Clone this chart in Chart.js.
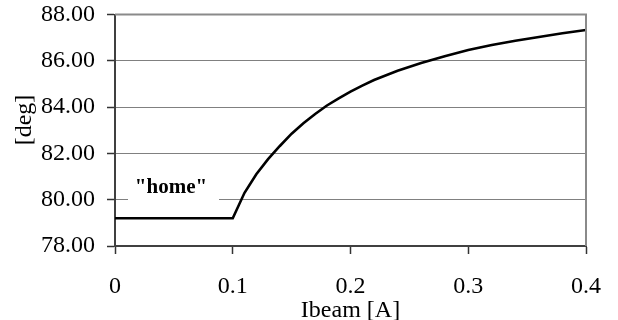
<!DOCTYPE html>
<html>
<head>
<meta charset="utf-8">
<script src="https://cdn.jsdelivr.net/npm/chart.js@4/dist/chart.umd.min.js"></script>
<style>
  html, body { margin: 0; padding: 0; background: #fff; }
  #wrap { width: 618px; height: 320px; position: relative; }
</style>
</head>
<body>
<div id="wrap"><canvas id="c"></canvas></div>
<script>
const ibeam = [0, 0.10, 0.11, 0.12, 0.13, 0.14, 0.15, 0.16, 0.17, 0.18, 0.19, 0.20, 0.21, 0.22, 0.24, 0.26, 0.28, 0.30, 0.32, 0.34, 0.36, 0.38, 0.40];
const angle = [79.2, 79.2, 80.3, 81.1, 81.75, 82.32, 82.85, 83.3, 83.7, 84.07, 84.38, 84.67, 84.93, 85.17, 85.57, 85.9, 86.2, 86.47, 86.68, 86.87, 87.03, 87.19, 87.33];
const xTickLabels = ['0', '0.1', '0.2', '0.3', '0.4'];
const yTickLabels = ['78.00', '80.00', '82.00', '84.00', '86.00', '88.00'];
const xTitle = 'Ibeam [A]';
const yTitle = '[deg]';
const annotationText = '"home"';

const serif = '"Liberation Serif", "Times New Roman", serif';

const decor = {
  id: 'decor',
  afterDraw(chart) {
    const ctx = chart.ctx;
    const a = chart.chartArea;
    ctx.save();
    // right and top border
    ctx.strokeStyle = '#8a8a8a';
    ctx.lineWidth = 2;
    ctx.beginPath();
    ctx.moveTo(a.left, a.top);
    ctx.lineTo(a.right, a.top);
    ctx.lineTo(a.right, a.bottom);
    ctx.stroke();
    // annotation box
    const ys = chart.scales.y;
    const y80 = ys.getPixelForValue(80);
    ctx.fillStyle = '#fff';
    ctx.fillRect(128, y80 - 30, 91, 33);
    ctx.fillStyle = '#000';
    ctx.font = 'bold 21px ' + serif;
    ctx.textAlign = 'center';
    ctx.textBaseline = 'alphabetic';
    ctx.fillText(annotationText, 171, y80 - 7);
    // axis titles
    ctx.font = '24px ' + serif;
    ctx.fillText(xTitle, (a.left + a.right) / 2, 317);
    ctx.translate(31, 120);
    ctx.rotate(-Math.PI / 2);
    ctx.fillText(yTitle, 0, 0);
    ctx.restore();
  }
};

new Chart(document.getElementById('c'), {
  type: 'scatter',
  data: {
    datasets: [{
      data: ibeam.map((x, i) => ({ x: x, y: angle[i] })),
      showLine: true,
      borderColor: '#000',
      borderWidth: 2.6,
      pointRadius: 0,
      tension: 0,
      fill: false
    }]
  },
  options: {
    responsive: true,
    maintainAspectRatio: false,
    animation: false,
    layout: { padding: { top: 14.5, right: 32, left: 0, bottom: 0 } },
    plugins: { legend: { display: false }, tooltip: { enabled: false } },
    scales: {
      x: {
        type: 'linear',
        min: 0, max: 0.4,
        afterFit(s) { s.height = 74; s.paddingLeft = 0; s.paddingRight = 0; },
        afterBuildTicks(s) { s.ticks = xTickLabels.map(t => ({ value: parseFloat(t) })); },
        ticks: {
          autoSkip: false,
          maxRotation: 0,
          padding: 18,
          color: '#000',
          font: { family: serif, size: 24 },
          callback: (v, i) => xTickLabels[i]
        },
        grid: { drawOnChartArea: false, drawTicks: true, tickLength: 8, tickColor: '#333', tickWidth: 1.5 },
        border: { color: '#404040', width: 2 }
      },
      y: {
        type: 'linear',
        min: 78, max: 88,
        afterFit(s) { s.width = 115; s.paddingTop = 0; s.paddingBottom = 0; },
        afterBuildTicks(s) { s.ticks = yTickLabels.map(t => ({ value: parseFloat(t) })); },
        ticks: {
          autoSkip: false,
          padding: 12,
          color: '#000',
          font: { family: serif, size: 24 },
          callback: (v, i) => yTickLabels[i]
        },
        grid: { color: '#808080', lineWidth: 1, drawTicks: true, tickLength: 8, tickColor: '#333', tickWidth: 1.5 },
        border: { color: '#404040', width: 2 }
      }
    }
  },
  plugins: [decor]
});
</script>
</body>
</html>
